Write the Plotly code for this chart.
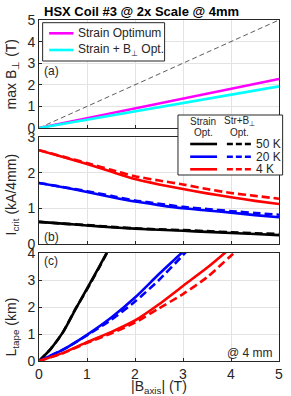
import plotly.graph_objects as go

# ---------------- data ----------------
# panel (a): max B_perp vs |B_axis|
bx_a = [0, 1, 2, 3, 4, 5]
bperp_strain = [0, 0.45, 0.91, 1.36, 1.82, 2.27]
bperp_strain_b = [0, 0.39, 0.77, 1.16, 1.54, 1.93]
ref_line = [0, 1, 2, 3, 4, 5]

# panel (b): I_crit (kA/4mm)
bx_b = [0, 0.5, 1, 1.5, 2, 2.5, 3, 3.5, 4, 4.5, 5]
ic_4k_s = [2.63, 2.44, 2.24, 2.03, 1.82, 1.67, 1.54, 1.42, 1.31, 1.21, 1.12]
ic_4k_sb = [2.63, 2.45, 2.27, 2.08, 1.90, 1.78, 1.67, 1.54, 1.43, 1.35, 1.27]
ic_20k_s = [1.71, 1.59, 1.46, 1.32, 1.19, 1.09, 1.00, 0.94, 0.88, 0.81, 0.75]
ic_20k_sb = [1.71, 1.60, 1.48, 1.35, 1.22, 1.13, 1.04, 0.98, 0.92, 0.87, 0.82]
ic_50k_s = [0.62, 0.57, 0.52, 0.47, 0.43, 0.40, 0.37, 0.34, 0.31, 0.28, 0.25]
ic_50k_sb = [0.62, 0.57, 0.53, 0.48, 0.44, 0.41, 0.39, 0.36, 0.33, 0.30, 0.28]

# panel (c): L_tape (km)
bx_c50 = [0, 0.25, 0.5, 0.75, 1.0, 1.25, 1.5]
lt_50k_s = [0, 0.46, 1.07, 1.88, 2.68, 3.48, 4.3]
lt_50k_sb = [0, 0.46, 1.07, 1.9, 2.65, 3.45, 4.28]
bx_c20 = [0, 0.5, 1, 1.5, 2, 2.5, 3, 3.2]
lt_20k_s = [0, 0.42, 0.97, 1.6, 2.35, 3.22, 4.05, 4.4]
lt_20k_sb = [0, 0.42, 0.95, 1.52, 2.2, 3.0, 3.92, 4.3]
bx_c4 = [0, 0.5, 1, 1.5, 2, 2.5, 3, 3.5, 4, 4.5]
lt_4k_s = [0, 0.3, 0.7, 1.07, 1.5, 2.1, 2.78, 3.45, 4.2, 5.0]
lt_4k_sb = [0, 0.29, 0.67, 1.02, 1.42, 1.95, 2.48, 3.1, 3.9, 4.7]

xticks = [0, 1, 2, 3, 4, 5]
yticks_a = [0, 1, 2, 3, 4, 5]
yticks_b = [0, 1, 2, 3]
yticks_c = [0, 1, 2, 3, 4]

title = "<b>HSX Coil #3 @ 2x Scale @ 4mm</b>"
temps = ["50 K", "20 K", "4 K"]
temp_colors = ["#000000", "#0000ff", "#ff0000"]

# ---------------- figure ----------------
W, H = 291, 396
L, R, T, B = 39, 8, 20, 35
PW, PH = W - L - R, H - T - B


def px(x):
    return (x - L) / PW


def py(y):
    return (H - B - y) / PH


FONT = "Liberation Sans, Arial, sans-serif"
AX = "#262626"
GRID = "#e3e3e3"
LW = 2.6
DASH = "8px,4px"
SM = dict(shape="spline", smoothing=0.6)

fig = go.Figure()

# panel a
fig.add_trace(go.Scatter(x=bx_a, y=ref_line, mode="lines", xaxis="x", yaxis="y",
                         line=dict(color="#333333", width=0.8, dash="5px,3px")))
fig.add_trace(go.Scatter(x=bx_a, y=bperp_strain, mode="lines", xaxis="x", yaxis="y",
                         line=dict(color="#ff00ff", width=LW)))
fig.add_trace(go.Scatter(x=bx_a, y=bperp_strain_b, mode="lines", xaxis="x", yaxis="y",
                         line=dict(color="#00ffff", width=LW)))

# panel b
for ys, yd, c in [(ic_50k_s, ic_50k_sb, "#000000"), (ic_20k_s, ic_20k_sb, "#0000ff"),
                  (ic_4k_s, ic_4k_sb, "#ff0000")]:
    fig.add_trace(go.Scatter(x=bx_b, y=ys, mode="lines", xaxis="x2", yaxis="y2",
                             line=dict(color=c, width=LW, **SM)))
    fig.add_trace(go.Scatter(x=bx_b, y=yd, mode="lines", xaxis="x2", yaxis="y2",
                             line=dict(color=c, width=LW, dash=DASH, **SM)))

# panel c
for xs, ys, yd, c in [(bx_c50, lt_50k_s, lt_50k_sb, "#000000"),
                      (bx_c20, lt_20k_s, lt_20k_sb, "#0000ff"),
                      (bx_c4, lt_4k_s, lt_4k_sb, "#ff0000")]:
    fig.add_trace(go.Scatter(x=xs, y=ys, mode="lines", xaxis="x3", yaxis="y3",
                             line=dict(color=c, width=LW, **SM)))
    fig.add_trace(go.Scatter(x=xs, y=yd, mode="lines", xaxis="x3", yaxis="y3",
                             line=dict(color=c, width=LW, dash=DASH, **SM)))

common_ax = dict(showline=True, mirror=True, linecolor=AX, linewidth=1,
                 showgrid=True, gridcolor=GRID, gridwidth=1, zeroline=False,
                 ticks="inside", ticklen=3, tickcolor=AX,
                 tickfont=dict(family=FONT, size=14, color=AX))

dom_a = [py(128), 1.0]
dom_b = [py(244), py(137)]
dom_c = [0.0, py(253)]

fig.update_layout(
    width=W, height=H,
    margin=dict(l=L, r=R, t=T, b=B, pad=0),
    paper_bgcolor="white", plot_bgcolor="white",
    showlegend=False,
    xaxis=dict(domain=[0, 1], range=[0, 5], tickvals=xticks, showticklabels=False,
               anchor="y", **common_ax),
    yaxis=dict(domain=dom_a, range=[0, 5], tickvals=yticks_a, anchor="x", **common_ax),
    xaxis2=dict(domain=[0, 1], range=[0, 5], tickvals=xticks, showticklabels=False,
                anchor="y2", **common_ax),
    yaxis2=dict(domain=dom_b, range=[0, 3], tickvals=yticks_b, anchor="x2", **common_ax),
    xaxis3=dict(domain=[0, 1], range=[0, 5], tickvals=xticks, anchor="y3", **common_ax),
    yaxis3=dict(domain=dom_c, range=[0, 4], tickvals=yticks_c, anchor="x3", **common_ax),
)

ann = []
shapes = []


def text(x, y, s, size=14, xanchor="center", yanchor="middle", angle=0, color=AX):
    ann.append(dict(x=px(x), y=py(y), xref="paper", yref="paper", text=s,
                    showarrow=False, xanchor=xanchor, yanchor=yanchor,
                    textangle=angle, font=dict(family=FONT, size=size, color=color)))


def seg(x0, x1, y, color, dash="solid", width=LW):
    shapes.append(dict(type="line", xref="paper", yref="paper",
                       x0=px(x0), x1=px(x1), y0=py(y), y1=py(y),
                       line=dict(color=color, width=width, dash=dash), layer="above"))


def box(x0, y0, x1, y1):
    shapes.append(dict(type="rect", xref="paper", yref="paper",
                       x0=px(x0), x1=px(x1), y0=py(y1), y1=py(y0),
                       fillcolor="white", line=dict(color=AX, width=1), layer="above"))


# title & axis titles
text(143, 11, title, size=13, color="#000000")
text(12, 74, "max B<sub>⊥</sub> (T)", angle=-90)
text(12, 194, "I<sub>crit</sub> (kA/4mm)", angle=-90)
text(12, 327, "L<sub>tape</sub> (km)", angle=-90)
text(161, 387, "|B<sub>axis</sub>| (T)")

# panel labels
text(42, 71, "(a)", size=12, xanchor="left")
text(42, 237, "(b)", size=12, xanchor="left")
text(42, 261, "(c)", size=12, xanchor="left")
text(279, 353, "@ 4 mm", size=12, xanchor="right")

# legend (a)
box(42.7, 22.7, 166.7, 61)
seg(49.3, 74, 33.3, "#ff00ff")
seg(49.3, 74, 50, "#00ffff")
text(77, 33.3, "Strain Optimum", size=12, xanchor="left")
text(77, 50, "Strain + B<sub>⊥</sub> Opt.", size=12, xanchor="left")

# legend (b)
box(180.3, 115, 286.7, 175)
text(206, 121.5, "Strain", size=10)
text(206, 132.5, "Opt.", size=10)
text(243, 121.5, "Str+B<sub>⊥</sub>", size=10)
text(243, 132.5, "Opt.", size=10)
for i, (t, c) in enumerate(zip(temps, temp_colors)):
    yy = [144, 156.7, 169.3][i]
    seg(192.7, 220, yy, c)
    seg(230, 256.7, yy, c, dash="6px,3px")
    text(258, yy, t, size=12, xanchor="left")

fig.update_layout(annotations=ann, shapes=shapes)
fig.write_html("out.html", config={"displayModeBar": False},
               post_script="document.body.style.margin='0';document.body.style.overflow='hidden';")
